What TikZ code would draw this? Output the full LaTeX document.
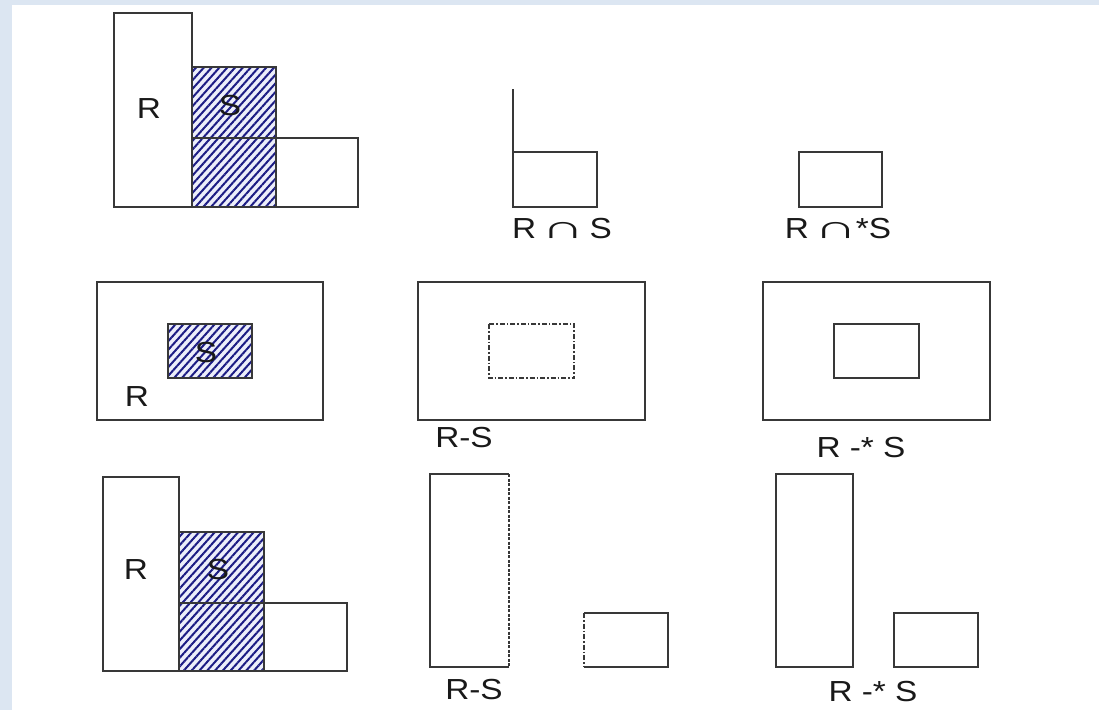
\documentclass[tikz,border=0pt]{standalone}
\usepackage{fontspec}
\setmainfont{Liberation Sans}[FakeStretch=1.15]
\usetikzlibrary{patterns.meta}

\definecolor{edgegray}{HTML}{383838}
\definecolor{hatchblue}{HTML}{1C1C84}
\definecolor{hatchpale}{HTML}{ECEEFA}
\definecolor{bandblue}{HTML}{DCE6F2}

\newcommand{\wcap}{\scalebox{1.8}[1.1]{∩}}

\tikzset{
  rel/.style={draw=edgegray, line width=1.2pt},
  hatched/.style={rel, preaction={fill=hatchpale},
    pattern={Lines[angle=48,distance=5.8pt,line width=2pt]}, pattern color=hatchblue},
  dashdotcut/.style={draw=edgegray, line width=1.4pt, dash pattern=on 5pt off 2pt on 1.5pt off 2pt},
  dashcut/.style={draw=edgegray, line width=1.2pt, dash pattern=on 3pt off 1.5pt},
  lbl/.style={inner sep=0pt, text=black!90, font=\fontsize{29}{32}\selectfont},
}

\begin{document}
\begin{tikzpicture}[x=1pt, y=-1pt]
  \useasboundingbox (0,0) rectangle (1099,710);
  \fill[white] (0,0) rectangle (1099,710);
  \fill[bandblue] (0,0) rectangle (12,710);
  \fill[bandblue] (0,0) rectangle (1099,5);

  \draw[rel] (114,13) rectangle (192,207);
  \draw[hatched] (192,67) rectangle (276,207);
  \draw[rel] (192,138) rectangle (358,207);
  \node[lbl] (r1) at (149,109) {R};
  \node[lbl] (s1) at (230,106) {S};

  \draw[rel] (513,89) -- (513,152);
  \draw[rel] (513,152) rectangle (597,207);
  \node[lbl] (cap) at (562,229) {R\hspace{0.18em}\wcap\hspace{0.18em}S};
  \draw[rel] (799,152) rectangle (882,207);
  \node[lbl] (capreg) at (838,229) {R\hspace{0.18em}\wcap\hspace{-0.05em}*S};

  \draw[rel] (97,282) rectangle (323,420);
  \draw[hatched] (168,324) rectangle (252,378);
  \node[lbl] (r2) at (137,397) {R};
  \node[lbl] (s2) at (206,353) {S};

  \draw[rel] (418,282) rectangle (645,420);
  \draw[dashdotcut] (489,324) rectangle (574,378);
  \node[lbl] (diff1) at (464,438) {R-S};
  \draw[rel] (763,282) rectangle (990,420);
  \draw[rel] (834,324) rectangle (919,378);
  \node[lbl] (diffreg1) at (861,448) {R -* S};

  \draw[rel] (103,477) rectangle (179,671);
  \draw[hatched] (179,532) rectangle (264,671);
  \draw[rel] (179,603) rectangle (347,671);
  \node[lbl] (r3) at (136,570) {R};
  \node[lbl] (s3) at (218,570) {S};

  \draw[rel] (509,667) -- (430,667) -- (430,474) -- (509,474);
  \draw[dashcut] (509,474) -- (509,667);
  \draw[rel] (584,613) -- (668,613) -- (668,667) -- (584,667);
  \draw[dashdotcut] (584,613) -- (584,667);
  \node[lbl] (diff2) at (474,690) {R-S};
  \draw[rel] (776,474) rectangle (853,667);
  \draw[rel] (894,613) rectangle (978,667);
  \node[lbl] (diffreg2) at (873,692) {R -* S};
\end{tikzpicture}
\end{document}
